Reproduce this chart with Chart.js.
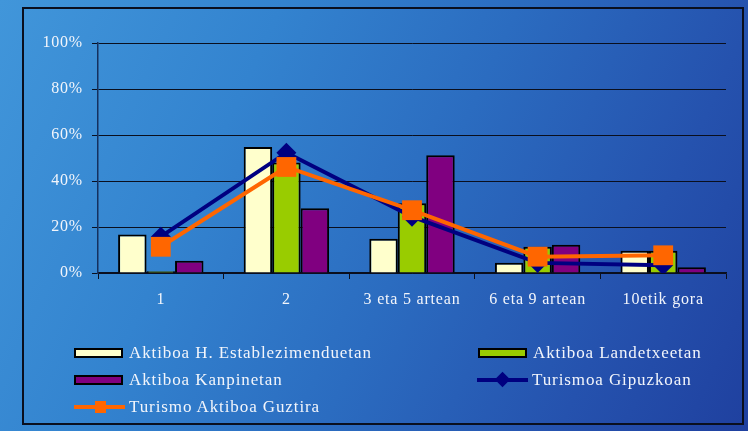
<!DOCTYPE html>
<html>
<head>
<meta charset="utf-8">
<script src="https://cdn.jsdelivr.net/npm/chart.js@4.4.1/dist/chart.umd.min.js"></script>
<style>
  html, body { margin:0; padding:0; width:748px; height:431px; overflow:hidden; }
  body {
    position:relative;
    background: linear-gradient(115deg, #4196da 0%, #3383cf 30%, #2b6cc0 55%, #2552ae 80%, #1f409f 100%);
    font-family: 'Liberation Serif', 'Times New Roman', serif;
  }
  #frame { position:absolute; left:22px; top:7px; width:718px; height:414px; border:2px solid #0a0f1e; pointer-events:none; }
  #c { position:absolute; left:0; top:0; }
  .leg { position:absolute; height:20px; display:flex; align-items:center; color:#f2f5fb; font-size:17px; letter-spacing:0.9px; white-space:nowrap; }
  .sw { position:relative; width:51px; height:20px; margin-right:4px; flex:none; }
</style>
</head>
<body>
<canvas id="c" width="748" height="431"></canvas>
<div id="frame"></div>
<div id="legend"></div>
<script>
const categories = ['1', '2', '3 eta 5 artean', '6 eta 9 artean', '10etik gora'];
const yTicks = [0, 20, 40, 60, 80, 100];
const seriesNames = ['Aktiboa H. Establezimenduetan', 'Aktiboa Landetxeetan', 'Aktiboa Kanpinetan', 'Turismoa Gipuzkoan', 'Turismo Aktiboa Guztira'];
const hEstablezimenduak = [16.7, 54.8, 14.9, 4.5, 9.7];
const landetxeak = [0.8, 48.0, 30.3, 11.4, 9.7];
const kanpinak = [5.3, 28.1, 51.2, 12.3, 2.5];
const gipuzkoa = [15.8, 52.3, 24.5, 4.4, 3.4];
const guztira = [11.4, 46.1, 27.3, 7.1, 7.7];

const C = { cream:'#ffffcc', green:'#99cc00', purple:'#800080', navy:'#000080', orange:'#ff6600' };

const datasets = [
  { type:'bar', label:seriesNames[0], data:hEstablezimenduak, backgroundColor:C.cream, borderColor:'#000', borderWidth:2, order:2 },
  { type:'bar', label:seriesNames[1], data:landetxeak, backgroundColor:C.green, borderColor:'#000', borderWidth:2, order:2 },
  { type:'bar', label:seriesNames[2], data:kanpinak, backgroundColor:C.purple, borderColor:'#000', borderWidth:2, order:2 },
  { type:'line', label:seriesNames[3], data:gipuzkoa, borderColor:C.navy, backgroundColor:C.navy, borderWidth:4,
    pointStyle:'rectRot', pointRadius:10, pointBorderWidth:0, pointBackgroundColor:C.navy, tension:0, order:1 },
  { type:'line', label:seriesNames[4], data:guztira, borderColor:C.orange, backgroundColor:C.orange, borderWidth:4,
    pointStyle:'rect', pointRadius:14, pointBorderWidth:0, pointBackgroundColor:C.orange, tension:0, order:0 }
];

const spacing = {
  id:'spacing',
  beforeDraw(chart){ chart.ctx.letterSpacing = '0.8px'; },
  afterDraw(chart){ chart.ctx.letterSpacing = '0px'; }
};

const font = { family:"'Liberation Serif', 'Times New Roman', serif", size:16 };

new Chart(document.getElementById('c'), {
  data: { labels: categories, datasets },
  plugins: [spacing],
  options: {
    responsive:false,
    devicePixelRatio:1,
    animation:false,
    layout:{ padding:{ top:43, right:22, left:0, bottom:0 } },
    plugins:{ legend:{ display:false }, tooltip:{ enabled:false } },
    datasets:{ bar:{ categoryPercentage:0.68, barPercentage:1 } },
    scales:{
      x:{
        offset:true,
        grid:{ offset:true, drawOnChartArea:false, drawTicks:true, tickLength:6, color:'#0a0f1e', lineWidth:1 },
        border:{ color:'#0a0f1e', width:1.5 },
        ticks:{ color:'#f2f5fb', font, padding:11, maxRotation:0, autoSkip:false },
        afterFit(s){ s.height = 158; }
      },
      y:{
        min:0, max:100,
        afterBuildTicks(s){ s.ticks = yTicks.map(v => ({ value:v })); },
        grid:{ color:'#0a0f1e', lineWidth:1, drawTicks:true, tickLength:6 },
        border:{ color:'#15305e', width:1.5 },
        ticks:{ color:'#f2f5fb', font, padding:9, callback:v => v + '%' },
        afterFit(s){ s.width = 98; }
      }
    }
  }
});

// HTML legend built from the datasets
const legendPos = [
  { x:74, y:343 }, { x:478, y:343 },
  { x:74, y:370 }, { x:477, y:370 },
  { x:74, y:397 }
];
const legendEl = document.getElementById('legend');
datasets.forEach((ds, i) => {
  const item = document.createElement('div');
  item.className = 'leg';
  item.style.left = legendPos[i].x + 'px';
  item.style.top = legendPos[i].y + 'px';
  const sw = document.createElement('div');
  sw.className = 'sw';
  if (ds.type === 'bar') {
    sw.innerHTML = `<div style="position:absolute;left:0;top:5px;width:45px;height:6px;border:2px solid #000;background:${ds.backgroundColor}"></div>`;
  } else {
    const mk = ds.pointStyle === 'rectRot'
      ? `<div style="position:absolute;left:20px;top:4px;width:11px;height:11px;background:${ds.borderColor};transform:rotate(45deg)"></div>`
      : `<div style="position:absolute;left:21px;top:4px;width:11px;height:12px;background:${ds.borderColor}"></div>`;
    sw.innerHTML = `<div style="position:absolute;left:0;top:8px;width:51px;height:4px;background:${ds.borderColor}"></div>` + mk;
  }
  item.appendChild(sw);
  const t = document.createElement('span');
  t.textContent = ds.label;
  item.appendChild(t);
  legendEl.appendChild(item);
});
</script>
</body>
</html>
